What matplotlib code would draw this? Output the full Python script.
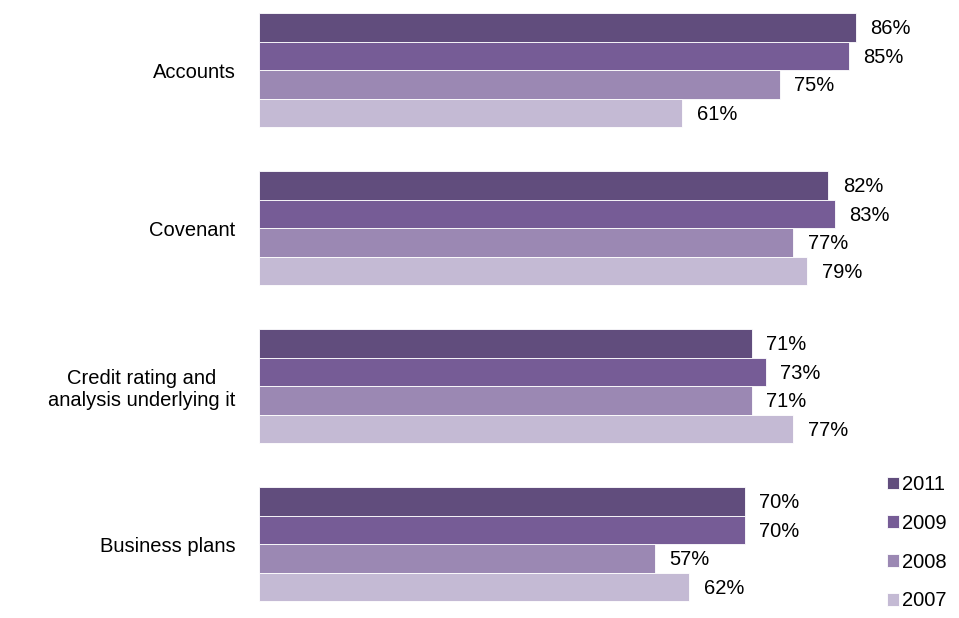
import matplotlib.pyplot as plt
import numpy as np

plt.rcParams['font.family'] = ['Liberation Sans', 'DejaVu Sans']

categories = ['Accounts', 'Covenant', 'Credit rating and\nanalysis underlying it', 'Business plans']
years = ['2011', '2009', '2008', '2007']
v2011 = [86, 82, 71, 70]
v2009 = [85, 83, 73, 70]
v2008 = [75, 77, 71, 57]
v2007 = [61, 79, 77, 62]
values = [v2011, v2009, v2008, v2007]
colors = ['#614d7d', '#765c96', '#9b88b3', '#c4bad4']

fs = 14.5

fig = plt.figure(figsize=(9.59, 6.18), dpi=100)
ax = fig.add_axes([259 / 959, 0, 694 / 959, 1])

bar_h = 28.6
pitch = 158
top = 13
group_top = top + pitch * np.arange(len(categories))

handles = []
for j, (yr, vals, c) in enumerate(zip(years, values, colors)):
    y = group_top + bar_h * j + bar_h / 2
    b = ax.barh(y, vals, height=bar_h, color=c, edgecolor='white', linewidth=0.6, label=yr)
    handles.append(b)
    for yy, v in zip(y, vals):
        ax.annotate(f'{v}%', (v, yy), xytext=(10.5, -1), textcoords='offset points',
                    ha='left', va='center', fontsize=fs)

ax.set_xlim(0, 100)
ax.set_ylim(618, 0)
ax.set_yticks(group_top + bar_h * 2)
ax.set_yticklabels(categories, fontsize=fs)
for lab in ax.get_yticklabels():
    lab.set_multialignment('center')
ax.tick_params(axis='y', length=0, pad=17)
ax.set_xticks([])
for s in ax.spines.values():
    s.set_visible(False)

leg = fig.legend(handles=handles, labels=years, loc='upper left',
                 bbox_to_anchor=(877 / 959, 1 - 465 / 618), frameon=False,
                 fontsize=fs, handlelength=0.6, handleheight=0.6,
                 handletextpad=0.15, labelspacing=0.98, borderpad=0)

fig.savefig('out.png', dpi=100)
